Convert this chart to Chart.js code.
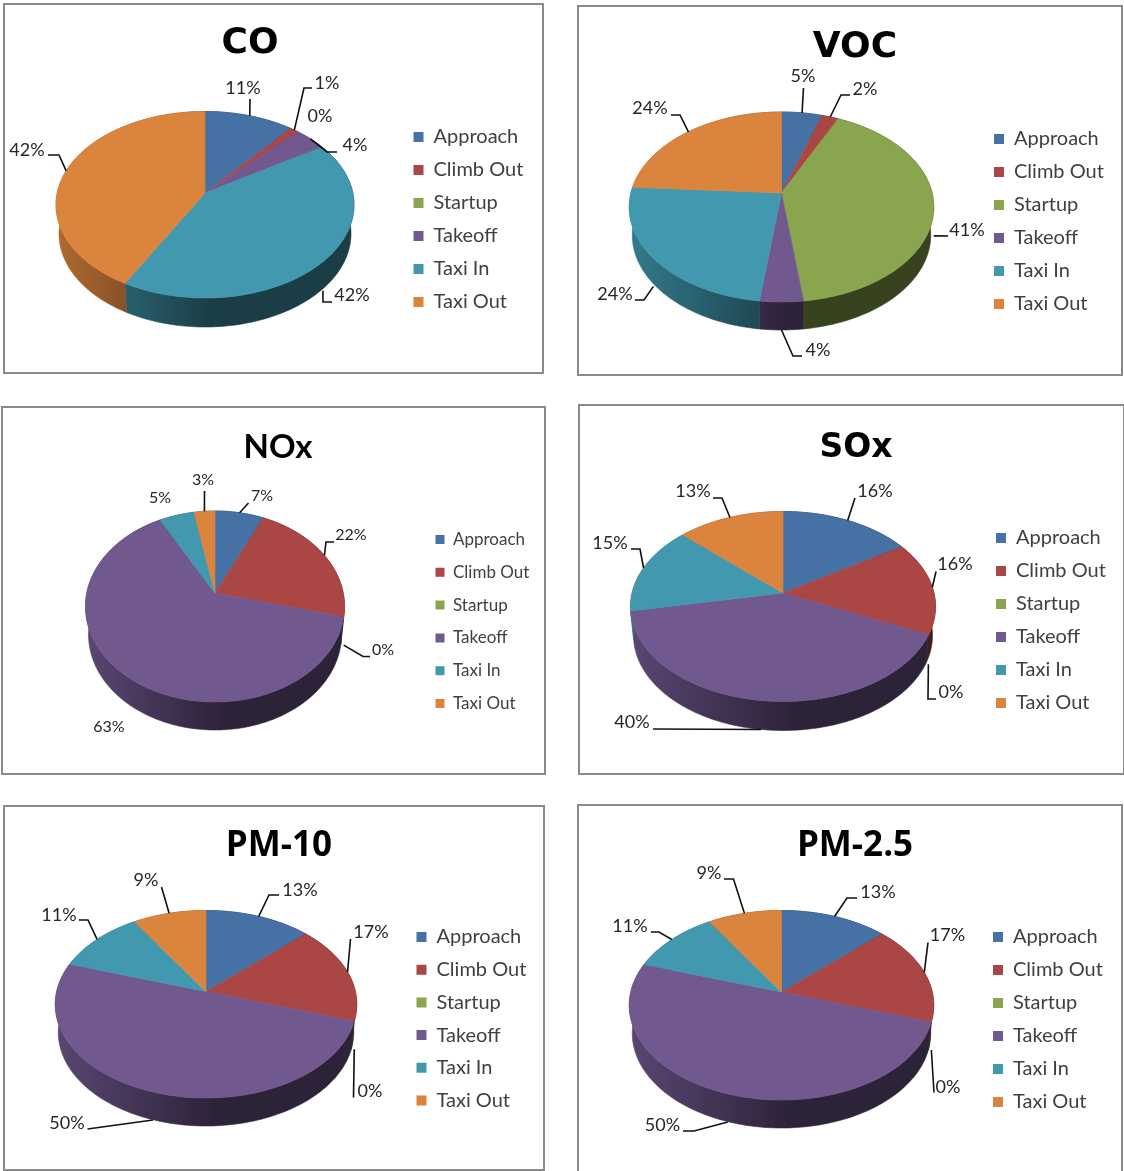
<!DOCTYPE html>
<html>
<head>
<meta charset="utf-8">
<title>Emissions by flight phase</title>
<script src="https://cdn.jsdelivr.net/npm/chart.js@4"></script>
<style>
  html, body { margin: 0; padding: 0; background: #fff; width: 1124px; height: 1171px; overflow: hidden; }
  canvas { position: absolute; outline: 2px solid #8a8a8a; outline-offset: -2px; }
</style>
</head>
<body>
<script>
// Share of each pollutant per flight phase, in percent.
const categories = ['Approach', 'Climb Out', 'Startup', 'Takeoff', 'Taxi In', 'Taxi Out'];
const titles = ['CO', 'VOC', 'NOx', 'SOx', 'PM-10', 'PM-2.5'];
const coValues = [11, 1, 0, 4, 42, 42];
const vocValues = [5, 2, 41, 4, 24, 24];
const noxValues = [7, 22, 0, 63, 5, 3];
const soxValues = [16, 16, 0, 40, 15, 13];
const pm10Values = [13, 17, 0, 50, 11, 9];
const pm25Values = [13, 17, 0, 50, 11, 9];
const seriesValues = [coValues, vocValues, noxValues, soxValues, pm10Values, pm25Values];
const phaseColors = ['#4571A5', '#AA4643', '#89A54E', '#71588F', '#4198AF', '#DB843D'];

const GOTHIC = 'DejaVu Sans', OPEN = 'Open Sans', LATO = 'Lato';

// Page geometry of each panel: frame, tilted disc, title, legend and label placement.
const panels = [
  { box: [3, 3, 541, 371], cx: 205, cy: 193, left: 56, right: 354, top: 111.5, bottom: 298, depth: 29,
    title: { x: 250, y: 44, family: GOTHIC, size: 36 },
    legend: { x: 413.5, y: 137, step: 33, size: 20, box: 10 }, labelSize: 18,
    labels: [
      { at: [243, 88], via: [[250, 99]] },
      { at: [327, 83], via: [[312, 88], [304, 88]] },
      { at: [320, 116] },
      { at: [355, 145], via: [[337, 152], [327, 152]] },
      { at: [352, 295], via: [[332, 302], [323, 302]], front: true },
      { at: [27, 150], via: [[48, 155], [59, 155]] }
    ] },
  { box: [577, 5, 546, 371], cx: 781.5, cy: 193, left: 629.5, right: 934, top: 112, bottom: 302, depth: 28,
    title: { x: 855, y: 48, family: GOTHIC, size: 36 },
    legend: { x: 994, y: 139, step: 33, size: 20, box: 10 }, labelSize: 18,
    labels: [
      { at: [803, 76], via: [[803.5, 88]] },
      { at: [865, 89], via: [[850, 95], [841, 95]] },
      { at: [967, 230], via: [[948, 236]], front: true },
      { at: [818, 350], via: [[802, 356], [793, 356]], front: true },
      { at: [615, 294], via: [[635, 300], [644, 300]], front: true },
      { at: [650, 108], via: [[671, 115], [680, 115]] }
    ] },
  { box: [1, 406, 545, 369], cx: 215, cy: 593, left: 86, right: 345, top: 511, bottom: 702, depth: 28,
    title: { x: 278, y: 447, family: LATO, size: 33 },
    legend: { x: 435.5, y: 539.5, step: 32.8, size: 17, box: 9 }, labelSize: 16,
    labels: [
      { at: [262, 496], via: [[248.5, 503]] },
      { at: [351, 535], via: [[334, 542], [326, 542]] },
      { at: [383, 650], via: [[370, 656.5], [363, 656.5]], front: true },
      { at: [109, 727] },
      { at: [160, 498] },
      { at: [203, 480], via: [[204.5, 491]] }
    ] },
  { box: [578, 404, 547, 371], cx: 783, cy: 593, left: 631, right: 936, top: 511.5, bottom: 701.5, depth: 29,
    title: { x: 856, y: 448, family: GOTHIC, size: 33 },
    legend: { x: 996, y: 538, step: 33, size: 20, box: 10 }, labelSize: 18,
    labels: [
      { at: [875, 491.5], via: [[855, 498]] },
      { at: [955, 564], via: [[936, 571.5]] },
      { at: [951, 692], via: [[936, 699], [928, 699]], front: true },
      { at: [632, 722], via: [[653, 729]], front: true },
      { at: [610, 543], via: [[631, 549], [640, 549]] },
      { at: [693, 491], via: [[713, 498], [722, 498]] }
    ] },
  { box: [3, 805, 542, 366], cx: 206, cy: 991.5, left: 55.5, right: 357, top: 910.5, bottom: 1098, depth: 28,
    title: { x: 279, y: 846, family: OPEN, size: 35 },
    legend: { x: 416.5, y: 937, step: 32.7, size: 20, box: 10 }, labelSize: 18,
    labels: [
      { at: [300, 890], via: [[279, 895], [269, 895]] },
      { at: [371, 932.5], via: [[350.5, 939]] },
      { at: [370, 1091.5], via: [[353.5, 1097.5]], front: true },
      { at: [67, 1123], via: [[87.5, 1129]], front: true },
      { at: [59, 915], via: [[79, 920], [88, 920]] },
      { at: [146, 880], via: [[161.5, 887]] }
    ] },
  { box: [577, 804, 546, 381], cx: 781.5, cy: 992, left: 629.5, right: 934, top: 910.5, bottom: 1100, depth: 28,
    title: { x: 855, y: 846, family: OPEN, size: 35 },
    legend: { x: 993, y: 937, step: 33, size: 20, box: 10 }, labelSize: 18,
    labels: [
      { at: [878, 892], via: [[857, 898], [847, 898]] },
      { at: [947.5, 935], via: [[928, 942.5]] },
      { at: [948, 1087.5], via: [[934, 1092.5]], front: true },
      { at: [662.5, 1125], via: [[683, 1131], [694, 1131]], front: true },
      { at: [630, 926.5], via: [[651, 932], [659, 932]] },
      { at: [709, 873], via: [[724, 879], [733.5, 879]] }
    ] }
];

function shade(hex, factor) {
  const n = parseInt(hex.slice(1), 16);
  const channel = shift => Math.round(((n >> shift) & 255) * factor);
  return `rgb(${channel(16)},${channel(8)},${channel(0)})`;
}

// Perspective mapping of the unit disc onto the page: the far half is foreshortened,
// so the disc centre sits above the middle of the projected ellipse.
function makeProjection(p) {
  const up = p.cy - p.top, down = p.bottom - p.cy;
  const k = (down - up) / (down + up);
  const ry = up * (1 + k);
  const rx = ((p.right - p.left) / 2) * Math.sqrt(1 - k * k);
  return angle => {
    const u = Math.cos(angle), v = Math.sin(angle), w = 1 - k * v;
    return [p.cx + rx * u / w, p.cy + ry * v / w];
  };
}

function arcSamples(project, start, end) {
  const steps = Math.max(2, Math.ceil((end - start) / 0.02));
  const pts = [];
  for (let i = 0; i <= steps; i++) pts.push(project(start + (end - start) * i / steps));
  return pts;
}

// Draws the wall and the top face of the pie from the library's arc elements.
function drawTiltedPie(chart, p, project) {
  const ctx = chart.ctx;
  const arcs = chart.getDatasetMeta(0).data;
  const [ox, oy] = p.box;
  const halfW = (p.right - p.left) / 2;
  ctx.save();
  ctx.translate(-ox, -oy);
  arcs.forEach((arc, i) => {
    if (arc.endAngle - arc.startAngle <= 0) return;
    const pts = arcSamples(project, arc.startAngle, arc.endAngle);
    const wall = ctx.createLinearGradient(p.left, 0, p.cx + 8, 0);
    wall.addColorStop(0, shade(phaseColors[i], 0.8));
    wall.addColorStop(1, shade(phaseColors[i], 0.4));
    ctx.beginPath();
    pts.forEach(([x, y], j) => j ? ctx.lineTo(x, y) : ctx.moveTo(x, y));
    for (let j = pts.length - 1; j >= 0; j--) {
      ctx.lineTo(p.cx + (pts[j][0] - p.cx) * (1 - 3 / halfW), pts[j][1] + p.depth);
    }
    ctx.closePath();
    ctx.fillStyle = wall;
    ctx.strokeStyle = wall;
    ctx.lineWidth = 0.6;
    ctx.fill();
    ctx.stroke();
  });
  arcs.forEach((arc, i) => {
    if (arc.endAngle - arc.startAngle <= 0) return;
    const pts = arcSamples(project, arc.startAngle, arc.endAngle);
    ctx.beginPath();
    ctx.moveTo(p.cx, p.cy);
    pts.forEach(([x, y]) => ctx.lineTo(x, y));
    ctx.closePath();
    ctx.fillStyle = phaseColors[i];
    ctx.strokeStyle = phaseColors[i];
    ctx.lineWidth = 0.6;
    ctx.fill();
    ctx.stroke();
  });
  ctx.restore();
}

// Percent labels with leader lines that end on the rim at each slice's mid-angle.
function drawLabels(chart, p, project) {
  const ctx = chart.ctx;
  const arcs = chart.getDatasetMeta(0).data;
  const values = chart.data.datasets[0].data;
  ctx.save();
  ctx.translate(-p.box[0], -p.box[1]);
  ctx.font = `${p.labelSize}px Lato`;
  ctx.fillStyle = '#262626';
  ctx.textAlign = 'center';
  ctx.textBaseline = 'middle';
  ctx.strokeStyle = '#111';
  ctx.lineWidth = 1.6;
  p.labels.forEach((label, i) => {
    ctx.fillText(values[i] + '%', label.at[0], label.at[1]);
    if (!label.via) return;
    const [ex, ey] = project((arcs[i].startAngle + arcs[i].endAngle) / 2);
    ctx.beginPath();
    label.via.forEach(([x, y], j) => j ? ctx.lineTo(x, y) : ctx.moveTo(x, y));
    ctx.lineTo(ex, ey + (label.front ? p.depth : 0));
    ctx.stroke();
  });
  ctx.restore();
}

panels.forEach((p, index) => {
  const canvas = document.createElement('canvas');
  const [bx, by, bw, bh] = p.box;
  canvas.width = bw;
  canvas.height = bh;
  canvas.style.left = bx + 'px';
  canvas.style.top = by + 'px';
  document.body.appendChild(canvas);
  const project = makeProjection(p);

  const tiltedPie = {
    id: 'tiltedPie',
    afterLayout(chart) {
      // Title and legend sit at fixed places within the panel.
      const t = chart.titleBlock;
      t.left = p.title.x - bx - 200;
      t.right = p.title.x - bx + 200;
      t.top = p.title.y - by - p.title.size * 0.6;
      const l = chart.legend;
      const gap = p.legend.step - p.legend.size;
      l.left = p.legend.x - bx - gap;
      l.top = p.legend.y - by - p.legend.size / 2 - gap;
    },
    beforeDatasetDraw(chart) {
      drawTiltedPie(chart, p, project);
      return false;
    },
    afterDatasetsDraw(chart) {
      drawLabels(chart, p, project);
    }
  };

  new Chart(canvas, {
    type: 'pie',
    data: {
      labels: categories,
      datasets: [{ data: seriesValues[index], backgroundColor: phaseColors, borderWidth: 0 }]
    },
    options: {
      responsive: false,
      animation: false,
      events: [],
      plugins: {
        tooltip: { enabled: false },
        title: {
          display: true,
          text: titles[index],
          color: '#000',
          padding: 0,
          font: { family: p.title.family, size: p.title.size, weight: 'bold', lineHeight: 1.2 }
        },
        legend: {
          display: true,
          position: 'right',
          align: 'start',
          labels: {
            boxWidth: p.legend.box,
            boxHeight: p.legend.box,
            padding: p.legend.step - p.legend.size,
            color: '#404040',
            font: { family: 'Lato', size: p.legend.size }
          }
        }
      }
    },
    plugins: [tiltedPie]
  });
});
</script>
</body>
</html>
